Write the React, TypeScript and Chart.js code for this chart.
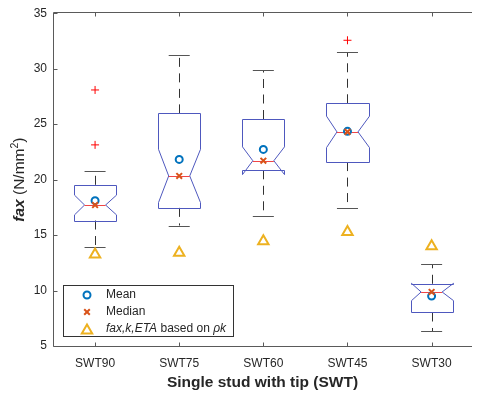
import React, { useEffect, useRef } from "react";
import { Chart, registerables } from "chart.js";

Chart.register(...registerables);

const FF = "'Liberation Sans', Arial, Helvetica, sans-serif";

// ---- data ----
const categories = ["SWT90", "SWT75", "SWT60", "SWT45", "SWT30"];
const positions = [1, 2, 3, 4, 5];
const q1 = [16.31, 17.45, 20.84, 21.58, 8.02];
const q3 = [19.53, 25.97, 25.46, 26.88, 10.61];
const medians = [17.71, 20.33, 21.7, 24.3, 9.87];
const notchHalf = [0.89, 2.4, 1.25, 1.42, 0.78];
const whiskerLow = [13.9, 15.86, 16.72, 17.41, 6.32];
const whiskerHigh = [20.78, 31.22, 29.87, 31.48, 12.37];
const means = [18.1, 21.82, 22.72, 24.35, 9.5];
const faxKEta = [13.25, 13.4, 14.45, 15.28, 14.0];
const outlierPos = [1, 1, 4];
const outlierVals = [28.08, 23.13, 32.56];
const yTicks = [5, 10, 15, 20, 25, 30, 35];
const legendLabels = ["Mean", "Median", "fax,k,ETA based on ρk"];

const BOX_COLOR = "rgb(78,88,190)";
const MEDIAN_COLOR = "rgb(240,70,70)";
const MEAN_COLOR = "#0072BD";
const MEDMARK_COLOR = "#D95319";
const TRI_COLOR = "#EDB120";
const AXIS_COLOR = "#5a5a5a";
const TEXT_COLOR = "#262626";

const boxPlugin = {
  id: "boxes",
  beforeDatasetsDraw(chart: any) {
    const { ctx } = chart;
    const xs = chart.scales.x;
    const ys = chart.scales.y;
    const X = (v: number) => xs.getPixelForValue(v);
    const Y = (v: number) => ys.getPixelForValue(v);
    const halfW = 0.25;
    const capHalf = 0.125;
    const notchInner = 0.125;
    ctx.save();
    ctx.lineWidth = 1;
    positions.forEach((p, i) => {
      const xc = Math.round(X(p)) + 0.5;
      // whiskers (dashed)
      ctx.strokeStyle = "#333";
      ctx.setLineDash([9, 6.5]);
      ctx.beginPath();
      ctx.moveTo(xc, Y(q3[i]));
      ctx.lineTo(xc, Y(whiskerHigh[i]));
      ctx.moveTo(xc, Y(q1[i]));
      ctx.lineTo(xc, Y(whiskerLow[i]));
      ctx.stroke();
      ctx.setLineDash([]);
      // caps
      ctx.strokeStyle = "#555";
      ctx.beginPath();
      const yh = Math.round(Y(whiskerHigh[i])) + 0.5;
      const yl = Math.round(Y(whiskerLow[i])) + 0.5;
      ctx.moveTo(X(p - capHalf), yh);
      ctx.lineTo(X(p + capHalf), yh);
      ctx.moveTo(X(p - capHalf), yl);
      ctx.lineTo(X(p + capHalf), yl);
      ctx.stroke();
      // notched box
      const xl = Math.round(X(p - halfW)) + 0.5;
      const xr = Math.round(X(p + halfW)) + 0.5;
      const xil = X(p - notchInner);
      const xir = X(p + notchInner);
      const yq1 = Math.round(Y(q1[i])) + 0.5;
      const yq3 = Math.round(Y(q3[i])) + 0.5;
      const ym = Y(medians[i]);
      const ynh = Y(medians[i] + notchHalf[i]);
      const ynl = Y(medians[i] - notchHalf[i]);
      ctx.strokeStyle = BOX_COLOR;
      ctx.beginPath();
      ctx.moveTo(xl, yq1);
      ctx.lineTo(xl, ynl);
      ctx.lineTo(xil, ym);
      ctx.lineTo(xl, ynh);
      ctx.lineTo(xl, yq3);
      ctx.lineTo(xr, yq3);
      ctx.lineTo(xr, ynh);
      ctx.lineTo(xir, ym);
      ctx.lineTo(xr, ynl);
      ctx.lineTo(xr, yq1);
      ctx.closePath();
      ctx.stroke();
      // median line
      ctx.strokeStyle = MEDIAN_COLOR;
      ctx.beginPath();
      const ymr = Math.round(ym) + 0.5;
      ctx.moveTo(xil, ymr);
      ctx.lineTo(xir, ymr);
      ctx.stroke();
    });
    ctx.restore();
  },
};

function drawParts(ctx: any, parts: { t: string; f: string; dy?: number }[], x: number, y: number) {
  let cx = x;
  for (const p of parts) {
    ctx.font = p.f;
    ctx.fillText(p.t, cx, y + (p.dy || 0));
    cx += ctx.measureText(p.t).width;
  }
}
function partsWidth(ctx: any, parts: { t: string; f: string }[]) {
  let w = 0;
  for (const p of parts) {
    ctx.font = p.f;
    w += ctx.measureText(p.t).width;
  }
  return w;
}

const framePlugin = {
  id: "frame",
  afterDatasetsDraw(chart: any) {
    const { ctx, chartArea } = chart;
    const xs = chart.scales.x;
    const ys = chart.scales.y;
    const { left, right, top, bottom } = chartArea;
    ctx.save();
    ctx.strokeStyle = AXIS_COLOR;
    ctx.lineWidth = 1;
    const L = Math.round(left) + 0.5;
    const T = Math.round(top) - 0.5;
    const B = Math.round(bottom) + 0.5;
    ctx.beginPath();
    ctx.moveTo(L, T);
    ctx.lineTo(right, T);
    ctx.moveTo(L, T);
    ctx.lineTo(L, B);
    ctx.lineTo(right, B);
    // inward ticks
    positions.forEach((p) => {
      const px = Math.round(xs.getPixelForValue(p)) + 0.5;
      ctx.moveTo(px, B);
      ctx.lineTo(px, B - 4);
      ctx.moveTo(px, T);
      ctx.lineTo(px, T + 4);
    });
    yTicks.forEach((v) => {
      const py = Math.round(ys.getPixelForValue(v)) + 0.5;
      ctx.moveTo(L, py);
      ctx.lineTo(L + 4, py);
    });
    ctx.stroke();

    // legend
    const lx = 63.5, ly = 285.5, lw = 170, lh = 51;
    ctx.fillStyle = "#fff";
    ctx.fillRect(lx, ly, lw, lh);
    ctx.strokeStyle = "#333";
    ctx.strokeRect(lx, ly, lw, lh);
    const mx = 87;
    const rows = [295, 312, 329];
    // mean marker
    ctx.lineWidth = 2;
    ctx.strokeStyle = MEAN_COLOR;
    ctx.beginPath();
    ctx.arc(mx, rows[0], 3.5, 0, Math.PI * 2);
    ctx.stroke();
    // median marker
    ctx.strokeStyle = MEDMARK_COLOR;
    ctx.beginPath();
    ctx.moveTo(mx - 2.8, rows[1] - 2.8);
    ctx.lineTo(mx + 2.8, rows[1] + 2.8);
    ctx.moveTo(mx + 2.8, rows[1] - 2.8);
    ctx.lineTo(mx - 2.8, rows[1] + 2.8);
    ctx.stroke();
    // triangle marker
    ctx.strokeStyle = TRI_COLOR;
    ctx.beginPath();
    const r = 6;
    const cy = rows[2] + 1.5;
    ctx.moveTo(mx, cy - r);
    ctx.lineTo(mx + r * Math.sin(Math.PI / 3), cy + r / 2);
    ctx.lineTo(mx - r * Math.sin(Math.PI / 3), cy + r / 2);
    ctx.closePath();
    ctx.stroke();

    ctx.fillStyle = TEXT_COLOR;
    ctx.textBaseline = "middle";
    ctx.textAlign = "left";
    const tx = 106;
    ctx.font = `12px ${FF}`;
    ctx.fillText(legendLabels[0], tx, rows[0]);
    ctx.fillText(legendLabels[1], tx, rows[1]);
    const third = legendLabels[2];
    const idxB = third.indexOf(" based on ");
    drawParts(
      ctx,
      [
        { t: third.slice(0, idxB), f: `italic 12px ${FF}` },
        { t: " based on ", f: `12px ${FF}` },
        { t: third.slice(idxB + 10), f: `italic 12px ${FF}` },
      ],
      tx,
      rows[2]
    );

    // y-axis title
    const parts = [
      { t: "fax", f: `italic bold 15.5px ${FF}` },
      { t: " (N/mm", f: `15.5px ${FF}` },
      { t: "2", f: `10.5px ${FF}`, dy: -6 },
      { t: ")", f: `15.5px ${FF}` },
    ];
    ctx.save();
    ctx.translate(24, (top + bottom) / 2);
    ctx.rotate(-Math.PI / 2);
    ctx.textBaseline = "alphabetic";
    const w = partsWidth(ctx, parts);
    drawParts(ctx, parts, -w / 2, 0);
    ctx.restore();
    ctx.restore();
  },
};

export default function App() {
  const ref = useRef<HTMLCanvasElement | null>(null);
  useEffect(() => {
    if (!ref.current) return;
    const chart = new Chart(ref.current, {
      type: "scatter",
      data: {
        datasets: [
          {
            label: "Median",
            data: positions.map((p, i) => ({ x: p, y: medians[i] })),
            pointStyle: "crossRot",
            pointRadius: 4,
            pointBorderWidth: 2,
            borderColor: MEDMARK_COLOR,
            backgroundColor: MEDMARK_COLOR,
          },
          {
            label: "Mean",
            data: positions.map((p, i) => ({ x: p, y: means[i] })),
            pointStyle: "circle",
            pointRadius: 3.5,
            pointBorderWidth: 2,
            borderColor: MEAN_COLOR,
            backgroundColor: "rgba(0,0,0,0)",
          },
          {
            label: "fax,k,ETA",
            data: positions.map((p, i) => ({ x: p, y: faxKEta[i] })),
            pointStyle: "triangle",
            pointRadius: 6,
            pointBorderWidth: 2,
            borderColor: TRI_COLOR,
            backgroundColor: "rgba(0,0,0,0)",
          },
          {
            label: "Outliers",
            data: outlierPos.map((p, i) => ({ x: p, y: outlierVals[i] })),
            pointStyle: "cross",
            pointRadius: 4,
            pointBorderWidth: 1,
            borderColor: "rgb(255,0,0)",
            backgroundColor: "rgb(255,0,0)",
          },
        ],
      },
      options: {
        animation: false,
        responsive: false,
        devicePixelRatio: 1,
        layout: { padding: { top: 10, right: 0, left: 0, bottom: 0 } },
        plugins: { legend: { display: false }, tooltip: { enabled: false } },
        elements: { point: { hoverRadius: 0 } },
        scales: {
          x: {
            type: "linear",
            min: 0.5,
            max: 5.48,
            afterBuildTicks: (s: any) => {
              s.ticks = positions.map((v) => ({ value: v }));
            },
            afterFit: (s: any) => {
              s.height = 48;
            },
            ticks: {
              callback: (_v: any, i: number) => categories[i],
              color: TEXT_COLOR,
              font: { size: 12, family: FF },
              padding: 10,
              autoSkip: false,
              maxRotation: 0,
            },
            grid: { display: false, drawTicks: false },
            border: { display: false },
            title: {
              display: true,
              text: "Single stud with tip (SWT)",
              color: TEXT_COLOR,
              font: { size: 15.5, weight: "bold", family: FF },
              padding: { top: 0, bottom: 2 },
            },
          },
          y: {
            type: "linear",
            min: 5,
            max: 35,
            afterBuildTicks: (s: any) => {
              s.ticks = yTicks.map((v) => ({ value: v }));
            },
            afterFit: (s: any) => {
              s.width = 53;
            },
            ticks: {
              color: TEXT_COLOR,
              font: { size: 12, family: FF },
              padding: 6,
            },
            grid: { display: false, drawTicks: false },
            border: { display: false },
          },
        },
      },
      plugins: [boxPlugin, framePlugin],
    } as any);
    return () => chart.destroy();
  }, []);
  return (
    <div style={{ position: "fixed", left: 0, top: 0, width: 480, height: 394, background: "#fff" }}>
      <canvas ref={ref} width={480} height={394} style={{ display: "block" }} />
    </div>
  );
}
